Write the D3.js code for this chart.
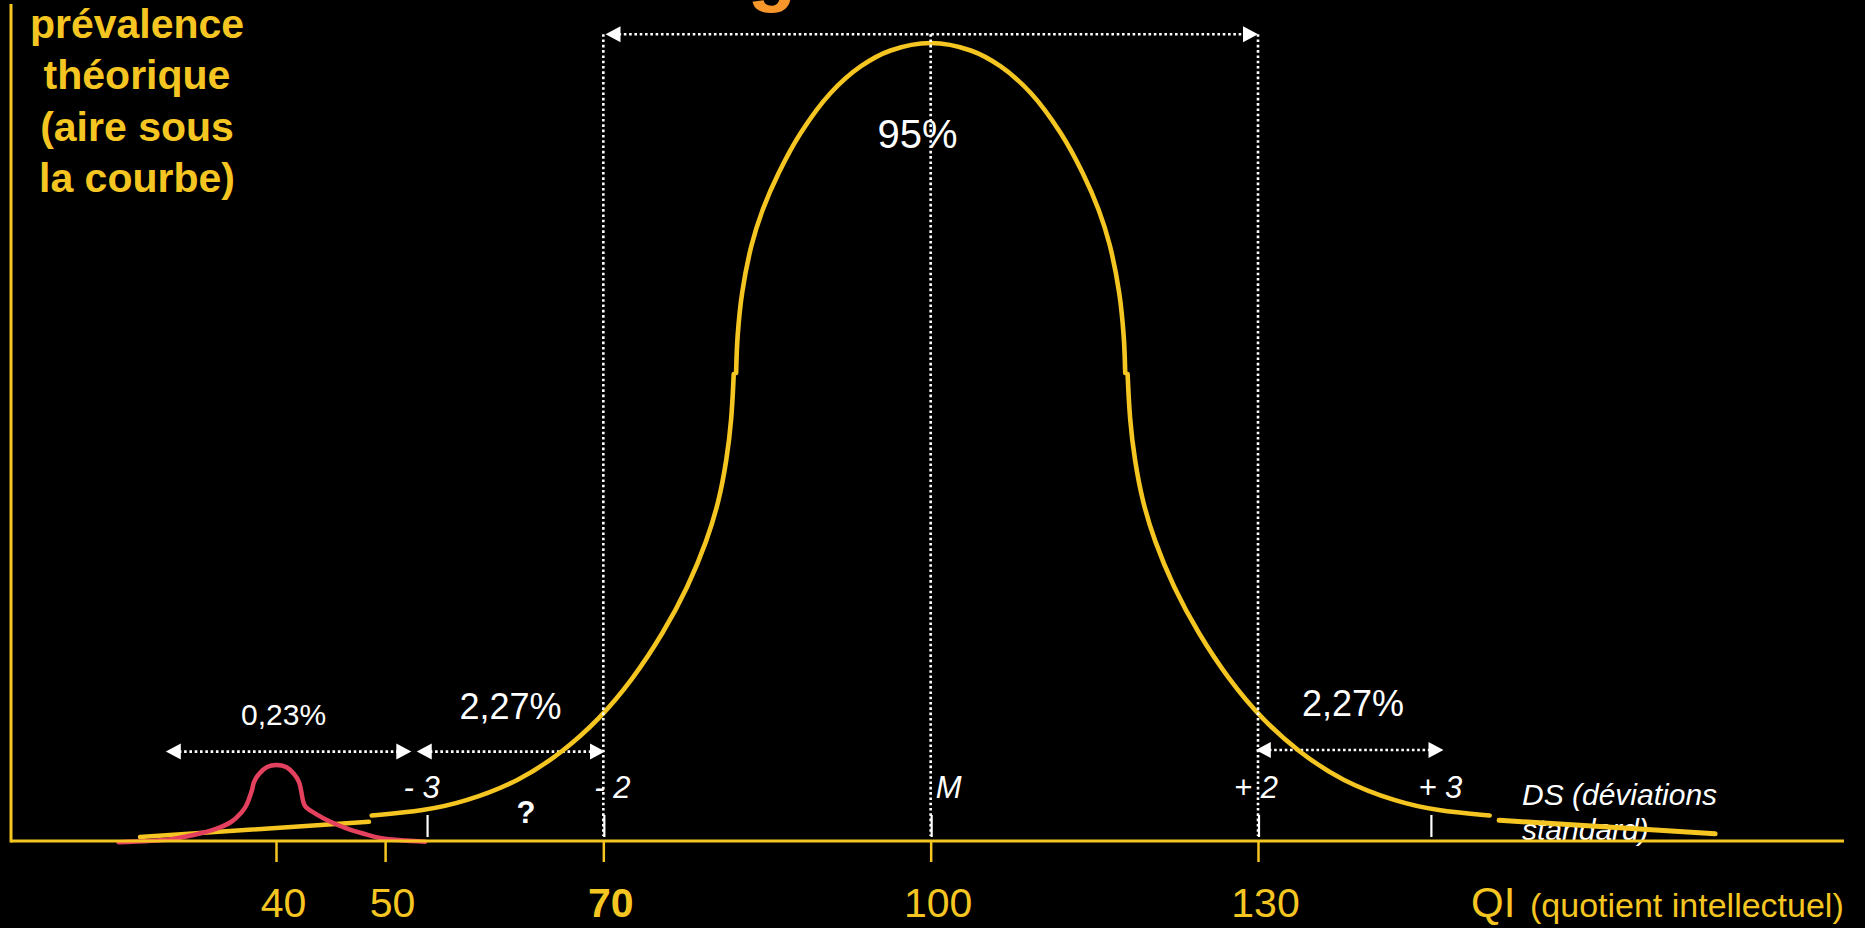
<!DOCTYPE html>
<html><head><meta charset="utf-8">
<script src="https://cdn.jsdelivr.net/npm/d3@7"></script>
<style>
html,body{margin:0;padding:0;background:#000;overflow:hidden;}
svg{display:block;}
</style></head><body>
<svg id="chart" width="1865" height="928"></svg>
<script>
// ---------------- data ----------------
const qiTicks = [40, 50, 70, 100, 130];
const qiBoldTick = 70;
const sdLabels = ["- 3", "- 2", "M", "+ 2", "+ 3"];
const sdTickQI = [53.8, 70, 100, 130, 145.8];
const bellMean = 100;
// upper cap of the bell: deviation from mean (QI points) / height (% of peak)
const capDev    = [0, 3.67, 6.42, 9.17, 11.91, 13.93, 15.40, 16.41, 17.28, 17.69, 17.83];
const capHeight = [100, 99.06, 97.06, 93.73, 88.72, 83.71, 79.07, 74.69, 68.67, 63.28, 58.65];
// lower flanks of the bell (mirrored on both sides)
const flankDev    = [18.05, 18.24, 18.70, 19.38, 20.48, 22.25, 24.49, 27.33, 30.41, 33.69, 37.67, 42.71, 46.38, 51.23];
const flankHeight = [58.5, 52.8, 47.7, 42.7, 37.7, 31.8, 26.1, 20.2, 15.2, 11.2, 7.5, 4.9, 3.8, 3.2];
// straight tail extensions
const tailLeftQI = [27.54, 48.52];
const tailLeftHeight = [0.5, 2.4];
const tailRightQI = [152.1, 171.9];
const tailRightHeight = [2.6, 0.9];
// small red curve around QI 40
const redQI     = [25.57, 30.38, 32.21, 34.23, 35.88, 36.79, 37.25, 37.80, 37.98, 38.44, 39.18, 40.04, 40.92, 41.65, 42.11, 42.29, 42.66, 43.57, 45.04, 46.46, 47.97, 49.68, 53.69];
const redHeight = [-0.16, 0.21, 0.69, 1.38, 2.38, 3.51, 4.39, 6.39, 7.39, 8.40, 9.27, 9.52, 9.27, 8.40, 7.39, 6.39, 4.39, 3.47, 2.38, 1.59, 0.94, 0.34, -0.09];
// double arrows
const arrowFrom  = [70.2, 29.9, 52.9, 129.8];
const arrowTo    = [130, 52.4, 70.15, 147.0];
const arrowLevel = [101.1, 11.2, 11.2, 11.4];
// percentage labels
const pctLabels = ["95%", "0,23%", "2,27%", "2,27%"];
const pctQI     = [98.8, 40.7, 61.5, 138.7];
const pctLevel  = [86.8, 14.5, 15.3, 15.7];
// vertical guides
const guideQI = [70, 100, 130];
const guideTop = 101.1;
// question mark
const questionQI = 62.9, questionLevel = 2.26;
// texts
const yTitleLines = ["prévalence", "théorique", "(aire sous", "la courbe)"];
const sdCaptionLines = ["DS (déviations", "standard)"];
const xTitleMain = "QI";
const xTitleSub = "(quotient intellectuel)";
const titleFragment = "g";

// ---------------- styles / layout ----------------
const FONT = "'Liberation Sans', Arial, Helvetica, sans-serif";
const YELLOW = "#F5C621", RED = "#E4415E", WHITE = "#FFFFFF", ORANGE = "#F7962B";
const pctSize = [40, 30, 36, 36];
const sdLabelShift = [-5, 9, 18, -2, 10];

const svg = d3.select("#chart");
svg.append("rect").attr("width", 1865).attr("height", 928).attr("fill", "#000");

const x = d3.scaleLinear().domain([40, 130]).range([276, 1258]);
const y = d3.scaleLinear().domain([0, 100]).range([841, 43]);
const axisLeftX = 11, axisRightX = 1844;

// title fragment (mostly above the frame)
svg.append("text").attr("x", 772).attr("y", -4).attr("text-anchor", "middle")
  .attr("font-family", FONT).attr("font-weight", "bold").attr("font-size", 80)
  .attr("fill", ORANGE).text(titleFragment);

// y title
svg.append("g").selectAll("text").data(yTitleLines).join("text")
  .attr("x", 137).attr("y", (d, i) => 38 + i * 51.3)
  .attr("text-anchor", "middle").attr("font-family", FONT).attr("font-weight", "bold")
  .attr("font-size", 41).attr("fill", YELLOW).text(d => d);

// DS caption (under the lines)
svg.append("g").selectAll("text").data(sdCaptionLines).join("text")
  .attr("x", 1522).attr("y", (d, i) => 805 + i * 35)
  .attr("font-family", FONT).attr("font-style", "italic").attr("font-size", 30)
  .attr("fill", WHITE).text(d => d);

// double arrows
const arrows = arrowFrom.map((f, i) => ({ f, t: arrowTo[i], h: arrowLevel[i] }));
const ag = svg.append("g");
const AH = 15, AW = 8;
arrows.forEach(a => {
  const x1 = x(a.f), x2 = x(a.t), yy = y(a.h);
  ag.append("line").attr("x1", x1 + AH - 2).attr("x2", x2 - AH + 2).attr("y1", yy).attr("y2", yy)
    .attr("stroke", WHITE).attr("stroke-width", 2.6).attr("stroke-dasharray", "2.6 2.7");
  ag.append("path").attr("d", `M${x1},${yy} L${x1 + AH},${yy - AW} L${x1 + AH},${yy + AW} Z`).attr("fill", WHITE);
  ag.append("path").attr("d", `M${x2},${yy} L${x2 - AH},${yy - AW} L${x2 - AH},${yy + AW} Z`).attr("fill", WHITE);
});

// percentage labels
svg.append("g").selectAll("text").data(pctLabels).join("text")
  .attr("x", (d, i) => x(pctQI[i])).attr("y", (d, i) => y(pctLevel[i]))
  .attr("text-anchor", "middle").attr("font-family", FONT)
  .attr("font-size", (d, i) => pctSize[i]).attr("fill", WHITE).text(d => d);

// question mark
svg.append("text").attr("x", x(questionQI)).attr("y", y(questionLevel))
  .attr("text-anchor", "middle").attr("font-family", FONT).attr("font-weight", "bold")
  .attr("font-size", 31).attr("fill", WHITE).text("?");

// curves
const smooth = d3.line().x(p => x(p[0])).y(p => y(p[1])).curve(d3.curveBasis);
const through = d3.line().x(p => x(p[0])).y(p => y(p[1])).curve(d3.curveCatmullRom.alpha(0.5));
const straight = d3.line().x(p => x(p[0])).y(p => y(p[1]));
const cg = svg.append("g").attr("fill", "none").attr("stroke-linecap", "round").attr("stroke-linejoin", "round");
const capPts = capDev.map((d, i) => [bellMean - d, capHeight[i]]).reverse()
  .concat(capDev.slice(1).map((d, i) => [bellMean + d, capHeight[i + 1]]));
const leftFlank = flankDev.map((d, i) => [bellMean - d, flankHeight[i]]).reverse();
const rightFlank = flankDev.map((d, i) => [bellMean + d, flankHeight[i]]);
const tailL = tailLeftQI.map((q, i) => [q, tailLeftHeight[i]]);
const tailR = tailRightQI.map((q, i) => [q, tailRightHeight[i]]);
cg.append("path").attr("d", through(capPts)).attr("stroke", YELLOW).attr("stroke-width", 4.6);
[leftFlank, rightFlank].forEach(pts =>
  cg.append("path").attr("d", smooth(pts)).attr("stroke", YELLOW).attr("stroke-width", 4.6));
cg.append("path").attr("d", straight(tailL)).attr("stroke", YELLOW).attr("stroke-width", 4.5);
cg.append("path").attr("d", straight(tailR)).attr("stroke", YELLOW).attr("stroke-width", 5);
const redPts = redQI.map((q, i) => [q, redHeight[i]]);
cg.append("path").attr("d", through(redPts)).attr("stroke", RED).attr("stroke-width", 4.5);

// axes lines
svg.append("line").attr("x1", axisLeftX).attr("x2", axisRightX).attr("y1", y(0)).attr("y2", y(0))
  .attr("stroke", YELLOW).attr("stroke-width", 3);
svg.append("line").attr("x1", axisLeftX).attr("x2", axisLeftX).attr("y1", 4).attr("y2", y(0) + 1.5)
  .attr("stroke", YELLOW).attr("stroke-width", 3);

// vertical dotted guides
svg.append("g").selectAll("line").data(guideQI).join("line")
  .attr("x1", d => x(d)).attr("x2", d => x(d)).attr("y1", y(guideTop)).attr("y2", y(0) - 5)
  .attr("stroke", WHITE).attr("stroke-width", 2.6).attr("stroke-dasharray", "2.6 2.7");

// SD ticks + labels
const sg = svg.append("g");
sg.selectAll("line").data(sdTickQI).join("line")
  .attr("x1", d => x(d) + 1).attr("x2", d => x(d) + 1).attr("y1", y(0) - 26).attr("y2", y(0) - 4)
  .attr("stroke", WHITE).attr("stroke-width", 2.2);
sg.selectAll("text").data(sdLabels).join("text")
  .attr("x", (d, i) => x(sdTickQI[i]) + sdLabelShift[i]).attr("y", y(0) - 43)
  .attr("text-anchor", "middle").attr("font-family", FONT).attr("font-style", "italic")
  .attr("font-size", 31).attr("fill", WHITE).text(d => d);

// x axis ticks and labels
const xAxis = d3.axisBottom(x).tickValues(qiTicks).tickSize(21).tickSizeOuter(0).tickPadding(26).tickFormat(d3.format("d"));
const xg = svg.append("g").attr("transform", `translate(0,${y(0)})`).call(xAxis);
xg.select(".domain").remove();
xg.attr("font-family", FONT).attr("font-size", 41);
xg.selectAll(".tick line").attr("stroke", YELLOW).attr("stroke-width", 2.5);
xg.selectAll(".tick text").attr("fill", YELLOW).attr("dx", 7)
  .attr("font-weight", d => d === qiBoldTick ? "bold" : "normal");

// x title
svg.append("text").attr("x", 1471).attr("y", 917).attr("font-family", FONT).attr("font-size", 42)
  .attr("fill", YELLOW).text(xTitleMain);
svg.append("text").attr("x", 1530).attr("y", 917).attr("font-family", FONT).attr("font-size", 34)
  .attr("fill", YELLOW).text(xTitleSub);
</script>
</body></html>
